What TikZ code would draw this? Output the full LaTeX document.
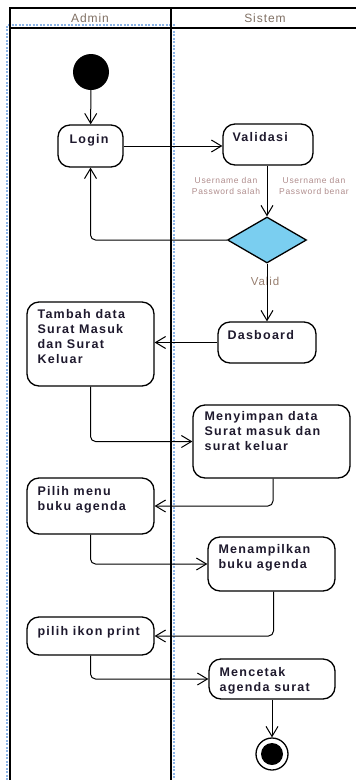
\documentclass[tikz,border=0pt]{standalone}
\usepackage{fontspec}
\setmainfont{Liberation Sans}
\newfontfamily\actfont[LetterSpace=10]{Liberation Sans}
\newfontfamily\lanefont[LetterSpace=8]{Liberation Sans}
\usetikzlibrary{arrows.meta,shapes.geometric}

\definecolor{lanetext}{RGB}{128,112,100}
\definecolor{guardtext}{RGB}{175,140,140}
\definecolor{validtext}{RGB}{150,125,110}
\definecolor{acttext}{RGB}{30,25,45}
\definecolor{decfill}{RGB}{122,206,240}
\definecolor{selblue}{RGB}{140,180,230}

\begin{document}
\begin{tikzpicture}[x=1pt,y=-1pt,
    act/.style={draw, rounded corners=12pt, line width=1.3pt, inner sep=0},
    acttext/.style={anchor=north west, inner sep=0, align=left, text=acttext,
      font=\actfont\bfseries\fontsize{12.5}{15}\selectfont},
    flow/.style={-{Straight Barb[length=10pt,width=12pt]}, line width=1pt, rounded corners=5pt},
    lane/.style={line width=2pt},
    guard/.style={align=center, inner sep=0, text=guardtext,
      font=\lanefont\fontsize{8.5}{11}\selectfont}]
    \useasboundingbox (0,0) rectangle (356,780);

    % Selection outline of the Admin lane
    \draw[selblue, line width=1.2pt, dash pattern=on 2pt off 1.5pt]
        (7,780) -- (7,25) -- (174,25) -- (174,780);

    % Swimlanes
    \draw[lane] (10,780) -- (10,8) -- (360,8);
    \draw[lane] (10,28) -- (360,28);
    \draw[lane] (171,8) -- (171,780);
    \node[text=lanetext, font=\lanefont\fontsize{12}{14}\selectfont] (admin) at (90,18) {Admin};
    \node[text=lanetext, font=\lanefont\fontsize{12}{14}\selectfont] (sistem) at (265,18) {Sistem};

    % Start and end
    \node[circle, fill=black, minimum size=36pt, inner sep=0] (start) at (91,72) {};
    \node[circle, draw, line width=1.3pt, minimum size=32pt, inner sep=0] (end) at (272,754) {};
    \node[circle, fill=black, minimum size=22pt, inner sep=0] (endin) at (end) {};

    % Activities
    \node[act, minimum width=65pt, minimum height=42pt] (login) at (90.5,146) {};
    \node[acttext] (login-t) at ([shift={(12,10)}]login.north west) {Login};

    \node[act, minimum width=90pt, minimum height=41pt] (validasi) at (268,144.5) {};
    \node[acttext] (validasi-t) at ([shift={(10,9)}]validasi.north west) {Validasi};

    \node[diamond, draw, line width=1.3pt, fill=decfill, aspect=1.72,
          minimum width=79pt, minimum height=46pt, inner sep=0] (dec) at (267,240) {};

    \node[act, minimum width=98pt, minimum height=41pt] (dasboard) at (267,342.5) {};
    \node[acttext] (dasboard-t) at ([shift={(10,9)}]dasboard.north west) {Dasboard};

    \node[act, minimum width=127pt, minimum height=84pt] (tambah) at (90.5,344) {};
    \node[acttext] (tambah-t) at ([shift={(11,8)}]tambah.north west)
        {Tambah data\\Surat Masuk\\dan Surat\\Keluar};

    \node[act, minimum width=157pt, minimum height=73pt] (menyimpan) at (271.5,441.5) {};
    \node[acttext] (menyimpan-t) at ([shift={(12,7)}]menyimpan.north west)
        {Menyimpan data\\Surat masuk dan\\surat keluar};

    \node[act, minimum width=127pt, minimum height=56pt] (pilihmenu) at (90.5,506) {};
    \node[acttext] (pilihmenu-t) at ([shift={(11,9)}]pilihmenu.north west)
        {Pilih menu\\buku agenda};

    \node[act, minimum width=127pt, minimum height=54pt] (menampilkan) at (271.5,564) {};
    \node[acttext] (menampilkan-t) at ([shift={(11,8)}]menampilkan.north west)
        {Menampilkan\\buku agenda};

    \node[act, minimum width=127pt, minimum height=38pt] (pilihikon) at (90.5,636) {};
    \node[acttext] (pilihikon-t) at ([shift={(11,10)}]pilihikon.north west) {pilih ikon print};

    \node[act, minimum width=126pt, minimum height=40pt] (mencetak) at (272,679) {};
    \node[acttext] (mencetak-t) at ([shift={(11,9)}]mencetak.north west)
        {Mencetak\\agenda surat};

    % Guards
    \node[guard] (salah) at (226,186) {Username dan\\Password salah};
    \node[guard] (benar) at (314,186) {Username dan\\Password benar};
    \node[text=validtext, inner sep=0, font=\lanefont\fontsize{11.5}{13}\selectfont] (valid) at (265,281) {Valid};

    % Flows
    \draw[flow] (start) -- (login);
    \draw[flow] (login.east) -- (login.east -| validasi.west);
    \draw[flow] (dec |- validasi.south) -- (dec.north);
    \draw[flow] (dec.west) -| (login.south);
    \draw[flow] (dec.south) -- (dasboard.north);
    \draw[flow] (dasboard.west) -- (dasboard.west -| tambah.east);
    \draw[flow] (tambah.south) |- (menyimpan.west);
    \draw[flow] ([xshift=1.5pt]menyimpan.south) |- (pilihmenu.east);
    \draw[flow] (pilihmenu.south) |- (menampilkan.west);
    \draw[flow] ([xshift=2pt]menampilkan.south) |- (pilihikon.east);
    \draw[flow] (pilihikon.south) |- (mencetak.west);
    \draw[flow] (mencetak.south) -- (end.north);
\end{tikzpicture}
\end{document}
